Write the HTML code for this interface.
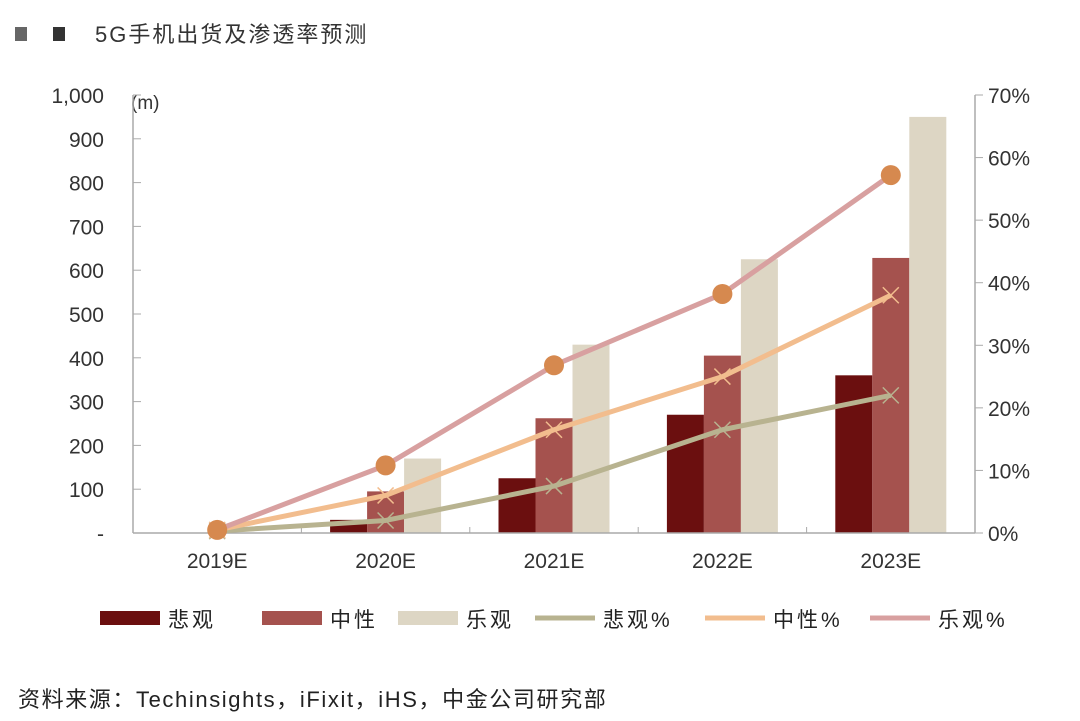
<!DOCTYPE html>
<html><head><meta charset="utf-8"><style>
body{margin:0;background:#fff;width:1080px;height:721px;overflow:hidden;font-family:"Liberation Sans","Noto Sans CJK SC",sans-serif;}
svg{display:block}
</style></head><body>
<svg width="1080" height="721" id="c">
<rect x="15" y="27" width="12" height="14" fill="#666"/>
<rect x="53" y="27" width="12" height="14" fill="#333"/>
<text x="95" y="42" font-size="22" letter-spacing="2" fill="#333">5G手机出货及渗透率预测</text>
<text x="131" y="109" font-size="19" fill="#333">(m)</text>
<text x="18" y="707" font-size="22" letter-spacing="1.6" fill="#222">资料来源：Techinsights，iFixit，iHS，中金公司研究部</text>
<g id="g"></g>
</svg>
<script>
const categories=["2019E","2020E","2021E","2022E","2023E"];
const pessimistic=[0,30,125,270,360];
const neutral=[0,95,262,405,628];
const optimistic=[0,170,430,625,950];
const pessPct=[0.3,2,7.5,16.5,22];
const neutPct=[0.5,6,16.5,25,38];
const optPct=[0.5,10.8,26.8,38.2,57.2];
const leftTicks=[0,100,200,300,400,500,600,700,800,900,1000];
const leftTickLabels=["-","100","200","300","400","500","600","700","800","900","1,000"];
const rightTicks=[0,10,20,30,40,50,60,70];

const NS="http://www.w3.org/2000/svg";
const g=document.getElementById('g');
const X0=133,X1=975,Y0=533,Y1=95;
const bw=(X1-X0)/categories.length;
const yL=v=>Y0-(v/1000)*(Y0-Y1);
const yR=v=>Y0-(v/70)*(Y0-Y1);
const xc=i=>X0+bw*(i+0.5);
function el(t,a){const e=document.createElementNS(NS,t);for(const k in a)e.setAttribute(k,a[k]);g.appendChild(e);return e;}
let ax=el('line',{x1:X0,y1:Y0,x2:X0,y2:Y1,stroke:'#aaa','stroke-width':1.5});

ax=el('line',{x1:X1,y1:Y0,x2:X1,y2:Y1,stroke:'#aaa','stroke-width':1.5});

leftTicks.forEach((v,i)=>{
  let l=el('line',{x1:X0,x2:X0+8,y1:yL(v),y2:yL(v),stroke:'#aaa'});
  
  let t=el('text',{x:104,y:yL(v)+8,'text-anchor':'end','font-size':21,fill:'#333'});t.textContent=leftTickLabels[i];
  
});
rightTicks.forEach(v=>{
  let l=el('line',{x1:X1,x2:X1+8,y1:yR(v),y2:yR(v),stroke:'#aaa'});
  
  let t=el('text',{x:988,y:yR(v)+8,'font-size':21,fill:'#333'});t.textContent=v+'%';
  
});
const bcol=['#6b0f0f','#a5524e','#ddd6c4'];
[pessimistic,neutral,optimistic].forEach((s,k)=>{
  s.forEach((v,i)=>{
    const x=xc(i)-55.5+k*37;
    let r=el('rect',{x:x,y:yL(v),width:37,height:Y0-yL(v),fill:bcol[k]});
    
    
  });
});
let xa=el('line',{x1:X0,y1:Y0,x2:X1,y2:Y0,stroke:'#aaa','stroke-width':1.5});

categories.forEach((c,i)=>{
  let t=el('text',{x:xc(i),y:568,'text-anchor':'middle','font-size':21,fill:'#333'});t.textContent=c;
  
  if(i>0){let l=el('line',{x1:X0+bw*i,x2:X0+bw*i,y1:Y0,y2:Y0-6,stroke:'#aaa'});
  }
});
const lines=[[pessPct,'#b8b390','x','pessimistic-pct'],[neutPct,'#f2bd8e','x','neutral-pct'],[optPct,'#d8a0a0','o','optimistic-pct']];
lines.forEach(([s,col,m,nm])=>{
  let p=el('polyline',{points:s.map((v,i)=>xc(i)+','+yR(v)).join(' '),fill:'none',stroke:col,'stroke-width':5,'stroke-linejoin':'round'});
  
  s.forEach((v,i)=>{
    const x=xc(i),y=yR(v);
    if(m==='o'){let c=el('circle',{cx:x,cy:y,r:10,fill:'#d6894f'});
      }
    else{let c=el('path',{d:`M${x-8},${y-8}L${x+8},${y+8}M${x-8},${y+8}L${x+8},${y-8}`,stroke:col,'stroke-width':1.5});
      }
  });
});
const leg=[['rect','#6b0f0f','悲观',100],['rect','#a5524e','中性',262],['rect','#ddd6c4','乐观',398],['line','#b8b390','悲观%',535],['line','#f2bd8e','中性%',705],['line','#d8a0a0','乐观%',870]];
leg.forEach(([t,col,lab,x])=>{
  let s;
  if(t==='rect')s=el('rect',{x:x,y:611,width:60,height:14,fill:col});
  else s=el('line',{x1:x,x2:x+60,y1:618,y2:618,stroke:col,'stroke-width':5});
  
  let tx=el('text',{x:x+68,y:627,'font-size':21,'letter-spacing':3,fill:'#222'});tx.textContent=lab;
  
});
</script>
</body></html>
